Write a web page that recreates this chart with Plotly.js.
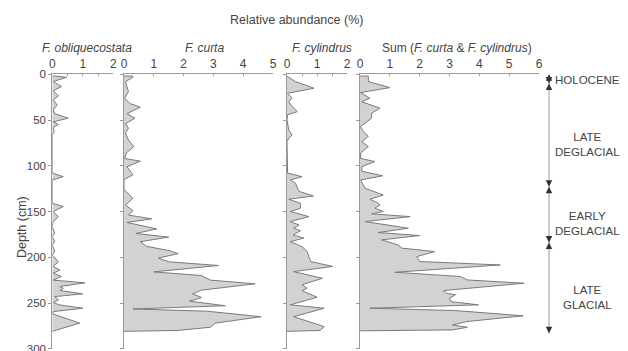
<!DOCTYPE html>
<html>
<head>
<meta charset="utf-8">
<script src="https://cdn.plot.ly/plotly-3.0.1.min.js"></script>
<style>html,body{margin:0;padding:0;background:#fff;}#chart{width:628px;height:351px;}</style>
</head>
<body>
<div id="chart"></div>
<script>
// ---- Data (depth in cm, relative abundance in %) ----
const oblDepth = [2,3.3,8,13.5,18,23.7,28,33.5,39,43,48,52,55,58,62.7,66,108,112,115.5,141,144.6,150,155.6,161,166.5,174,177,183,186.5,194,197.5,205,210,214,217.5,221,225,228,232,234,236.4,240,243,246.6,249.5,252,255.7,259.4,262,272,280];
const oblVal   = [0.1,0.47,0.03,0.3,0.03,0.2,0.03,0.16,0.03,0.08,0.52,0.03,0.2,0.03,0.06,0,0,0.36,0,0,0.36,0.03,0.2,0.03,0,0.08,0,0.08,0,0.08,0,0.2,0.03,0.25,0.03,0.3,0.03,1.07,0.25,0.36,0.25,1.0,0.08,0.2,0.03,0.23,1.0,0.03,0.02,0.9,0.03];

const curtaDepth = [2,3.3,8,19,26,32,36,43,48,54,59,64,72,79,86,92,95,101,106,110,115,126,135.5,143,149,154,155.5,158,162,165.5,169,174,178,183,188,193,196,201,205,209,216,220,225,229,234,236,240,244,248,253,256.5,259,265,272,276.5,280];
const curtaVal   = [0.3,0.3,0.05,0.15,0.02,0.2,0.55,0.1,0.37,0.05,0.15,0.05,0.15,0.33,0.08,0.02,0.55,0.1,0.2,0.3,0,0,0.3,0.05,0.3,0.15,0.45,0.93,0.1,0.6,1.1,0.4,1.5,0.55,0.75,1.55,1.82,1.15,1.5,3.17,1.0,2.6,2.9,4.4,3.2,2.6,2.3,2.6,2.2,3.4,0.3,2.8,4.6,3.05,2.9,1.8];

const cylDepth = [2.5,8,15.3,20.8,26.2,30,35.3,40.8,44.4,50,61,66.3,70,73.6,108,112,115.5,119,124.6,128,133,136.6,141,146.4,150,155.6,161,164.7,168.3,171,175.6,179,183,187.6,190,193.8,199.3,204.7,210,215.7,223,230,233.9,236.4,243.7,252,255.7,265,275.8,280];
const cylVal   = [0.02,0.28,0.9,0.02,0.17,0.06,0.17,0.34,0.02,0,0.06,0.17,0.06,0,0.02,0.5,0.11,0.28,0.34,0.4,0.88,0.06,0.45,0.45,0.11,0.73,0.11,0.4,0.22,0.45,0.2,0.56,0.11,0.45,0.56,0.67,0.73,0.79,1.52,0.22,1.18,0.5,0.67,0.5,1.0,0.11,1.24,0.22,1.24,1.1];

const sumDepth = [2,3.3,8,14.6,20,26.2,30,34.6,37,42.6,48,53.5,57,62.7,68,73.6,79,86,92,95.4,101,106,111,115.5,124.6,132,136.6,140,142.8,146.4,150,152.6,155.6,161,168.3,173,176.3,181,186.6,190,193.8,199.3,204.7,208.4,216.4,221,224.8,228.4,233.9,236.4,239.3,241,244.8,248.5,252,255.7,258.3,264,270.3,274,276.5,279.4];
const sumVal   = [0.28,0.28,0.28,1.0,0.02,0.33,0.06,0.45,0.67,0.39,0.39,0.17,0.02,0.11,0.28,0.06,0.28,0.02,0.02,0.5,0.06,0.06,0.76,0.02,0.17,0.78,0.33,0.56,0.67,0.5,0.78,0.39,1.68,0.17,1.62,0.61,2.0,0.73,1.28,1.4,2.5,1.9,2.0,4.7,1.17,3.35,3.6,5.5,3.58,2.8,2.9,3.2,3.0,3.05,3.97,0.33,3.2,5.47,3.58,3.1,3.6,3.1];

const panelTitles = ['<i>F. obliquecostata</i>','<i>F. curta</i>','<i>F. cylindrus</i>','Sum (<i>F. curta</i> &amp; <i>F. cylindrus</i>)'];
const panelMax = [2,5,2,6];
const depthTicks = [0,50,100,150,200,250,300];

const stageBounds = [0,10,123,184,283];
const stageNames = ['HOLOCENE','LATE<br>DEGLACIAL','EARLY<br>DEGLACIAL','LATE<br>GLACIAL'];
const stageLabelDepth = [6,77,163,244];

// ---- Layout helpers ----
const W = 628, H = 351;
const px = v => v / W;
const yTop = 1 - 74.25 / H, yBot = 1 - 348.75 / H;
const panelPx = [[52.3,113.3],[124,273],[287,347],[360,539]];
const lineCol = '#9a9a9a', textCol = '#444', curveCol = '#7a7a7a', fillCol = '#d2d2d2';
const FONT = 'Liberation Sans, Arial, sans-serif';

const series = [[oblDepth,oblVal],[curtaDepth,curtaVal],[cylDepth,cylVal],[sumDepth,sumVal]];
const traces = series.map((s,i) => {
  const d = s[0].slice(), v = s[1].slice();
  const last = d[d.length-1] + 1;
  d.push(last); v.push(0);
  d.unshift(d[0]); v.unshift(0);
  return {
    type:'scatter', mode:'lines', x:v, y:d,
    xaxis: i===0 ? 'x' : 'x'+(i+1), yaxis: i===0 ? 'y' : 'y'+(i+1),
    fill:'tozerox', fillcolor:fillCol,
    line:{color:curveCol, width:1}, hoverinfo:'skip', showlegend:false
  };
});

const layout = {
  width:W, height:H, margin:{l:0,r:0,t:0,b:0},
  paper_bgcolor:'#fff', plot_bgcolor:'rgba(0,0,0,0)',
  font:{family:FONT, color:textCol, size:12},
  showlegend:false,
  annotations:[], shapes:[]
};

for (let i=0;i<4;i++){
  const xk = i===0 ? 'xaxis' : 'xaxis'+(i+1);
  const yk = i===0 ? 'yaxis' : 'yaxis'+(i+1);
  const xa = i===0 ? 'x' : 'x'+(i+1);
  const ya = i===0 ? 'y' : 'y'+(i+1);
  let tv = [], tt = [];
  if (panelMax[i] === 2){ tv=[0,0.5,1,1.5,2]; tt=['0','','1','','2']; }
  else { for (let k=0;k<=panelMax[i];k++){ tv.push(k); tt.push(String(k)); } }
  layout[xk] = {
    domain:[px(panelPx[i][0]), px(panelPx[i][1])], range:[0,panelMax[i]],
    side:'top', anchor:ya, showline:true, linecolor:lineCol, linewidth:1,
    showgrid:false, zeroline:false, ticks:'inside', ticklen:2, tickcolor:lineCol,
    tickvals:tv, ticktext:tt, tickfont:{size:12, color:textCol, family:FONT},
    ticklabeloverflow:'allow'
  };
  layout[yk] = {
    domain:[yBot, yTop], range:[300,0], anchor:xa,
    showline:true, linecolor:lineCol, linewidth:1, showgrid:false, zeroline:false,
    ticks:'outside', ticklen:3, tickcolor:lineCol, tickvals:depthTicks,
    showticklabels: i===0, tickfont:{size:11.5, color:textCol, family:FONT},
    ticklabeloverflow:'allow'
  };
  const titleX = [87, 204, 322, 457][i];
  layout.annotations.push({
    xref:'paper', yref:'paper', x:px(titleX), y:1 - 48/H, text:panelTitles[i],
    showarrow:false, xanchor:'center', yanchor:'middle', font:{size:12, color:textCol}
  });
}

layout.annotations.push({
  xref:'paper', yref:'paper', x:px(296), y:1 - 20/H, text:'Relative abundance (%)',
  showarrow:false, xanchor:'center', yanchor:'middle', font:{size:12.5, color:textCol}
});
layout.annotations.push({
  xref:'paper', yref:'y', x:px(22), y:167, text:'Depth (cm)', textangle:-90,
  showarrow:false, xanchor:'center', yanchor:'middle', font:{size:12.5, color:textCol}
});

// stage line
const stageX = px(549);
layout.shapes.push({
  type:'line', xref:'paper', yref:'y', x0:stageX, x1:stageX, y0:stageBounds[0], y1:stageBounds[stageBounds.length-1],
  line:{color:'#9a9a9a', width:1}
});
// arrowheads: up at top, hourglass at inner boundaries, down at bottom
function arrowAt(depth, dir){ // dir -1: pointing up (tail below), +1: pointing down (tail above)
  layout.annotations.push({
    xref:'paper', yref:'y', x:stageX, y:depth, ax:0, ay: dir < 0 ? 7 : -7,
    text:'', showarrow:true, arrowhead:2, arrowsize:1.3, arrowwidth:1, arrowcolor:'#333', standoff:0, startstandoff:0
  });
}
arrowAt(stageBounds[0], -1);
for (let k=1;k<stageBounds.length-1;k++){ arrowAt(stageBounds[k], +1); arrowAt(stageBounds[k], -1); }
arrowAt(stageBounds[stageBounds.length-1], +1);

for (let i=0;i<stageNames.length;i++){
  layout.annotations.push({
    xref:'paper', yref:'y', x: i===0 ? px(553) : px(587), y:stageLabelDepth[i], text:stageNames[i],
    showarrow:false, xanchor: i===0 ? 'left' : 'center', yanchor:'middle', align:'center',
    font:{size:11.5, color:textCol}
  });
}

Plotly.newPlot('chart', traces, layout, {staticPlot:true, displayModeBar:false});
</script>
</body>
</html>
